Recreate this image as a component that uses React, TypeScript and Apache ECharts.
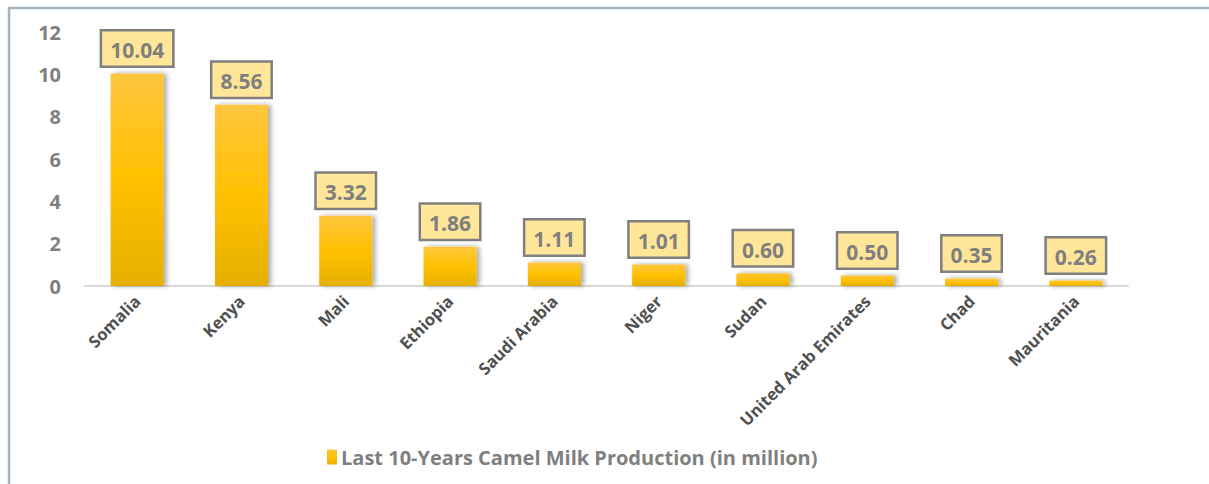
import React, { useEffect, useRef } from "react";
import * as echarts from "echarts";

const countries = ["Somalia", "Kenya", "Mali", "Ethiopia", "Saudi Arabia", "Niger", "Sudan", "United Arab Emirates", "Chad", "Mauritania"];
const production = [10.04, 8.56, 3.32, 1.86, 1.11, 1.01, 0.6, 0.5, 0.35, 0.26];
const seriesName = "Last 10-Years Camel Milk Production (in million)";
const yTicks = [0, 2, 4, 6, 8, 10, 12];

const FONT = "'Open Sans', 'Noto Sans', sans-serif";

export default function App() {
  const ref = useRef<HTMLDivElement>(null);
  useEffect(() => {
    if (!ref.current) return;
    const chart = echarts.init(ref.current, null, { renderer: "svg" });
    const barGrad = new echarts.graphic.LinearGradient(0, 0, 0, 1, [
      { offset: 0, color: "#ffc63f" },
      { offset: 0.5, color: "#ffc000" },
      { offset: 1, color: "#e5b000" },
    ]);
    chart.setOption({
      animation: false,
      backgroundColor: "#ffffff",
      graphic: [
        {
          type: "rect",
          shape: { x: 9, y: 8, width: 1400, height: 700 },
          style: { fill: "none", stroke: "#a3b3c0", lineWidth: 2.5 },
          silent: true,
        },
      ],
      grid: { left: 85, right: 81, top: 32, bottom: 198, containLabel: false },
      legend: {
        show: true,
        left: 322,
        top: 442,
        itemWidth: 10,
        itemHeight: 15,
        itemGap: 4,
        icon: "rect",
        textStyle: { fontFamily: FONT, fontWeight: "bold", fontSize: 20, color: "#7f7f7f", padding: [0, 0, 0, -1] },
        data: [{ name: seriesName }],
      },
      xAxis: {
        type: "category",
        data: countries,
        axisLine: { show: true, lineStyle: { color: "#d9d9d9", width: 2 } },
        axisTick: { show: false },
        axisLabel: {
          interval: 0,
          rotate: 45,
          margin: 12,
          fontFamily: FONT,
          fontWeight: "bold",
          fontSize: 16.5,
          color: "#505050",
        },
      },
      yAxis: {
        type: "value",
        min: 0,
        max: 12,
        interval: 2,
        splitLine: { show: false },
        axisLine: { show: false },
        axisTick: { show: false },
        axisLabel: {
          margin: 24,
          fontFamily: FONT,
          fontWeight: "bold",
          fontSize: 20,
          color: "#7f7f7f",
          formatter: (v: number) => (yTicks.includes(v) ? String(v) : ""),
        },
      },
      series: [
        {
          name: seriesName,
          type: "bar",
          data: production,
          barWidth: 53,
          itemStyle: {
            color: barGrad,
            shadowColor: "rgba(0,0,0,0.35)",
            shadowBlur: 5,
            shadowOffsetX: 3,
            shadowOffsetY: 0,
          },
          label: {
            show: true,
            position: "top",
            distance: 8,
            formatter: (p: any) => p.value.toFixed(2),
            fontFamily: FONT,
            fontWeight: "bold",
            fontSize: 21,
            color: "#7f7f7f",
            backgroundColor: "#ffe699",
            borderColor: "#7f7f7f",
            borderWidth: 2.5,
            padding: [8, 8, 5, 8],
          },
        },
      ],
    });
    return () => chart.dispose();
  }, []);
  return <div ref={ref} style={{ position: "fixed", left: 0, top: 0, width: 1209, height: 484 }} />;
}
